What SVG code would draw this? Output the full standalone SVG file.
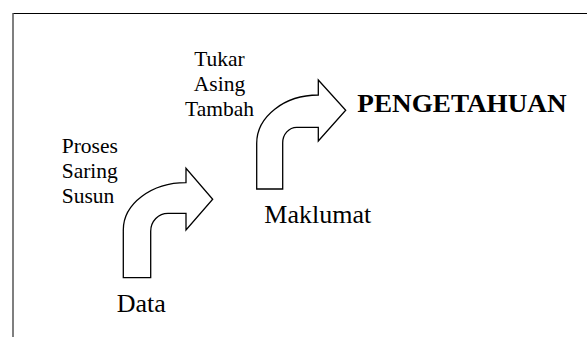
<svg xmlns="http://www.w3.org/2000/svg" width="587" height="337" viewBox="0 0 587 337">
<style>
.arrow{fill:#fff;stroke:#000;stroke-width:1.3;stroke-linejoin:miter}
.t{font-family:"Liberation Serif","Times New Roman",serif;fill:#000}
.s{font-size:21.5px}
.m{font-size:26px}
</style>
<rect width="587" height="337" fill="#fff"/>
<g id="frame">
<line x1="13" y1="13.5" x2="587" y2="13.5" stroke="#000" stroke-width="1"/>
<line x1="13" y1="13" x2="13" y2="337" stroke="#555" stroke-width="1.5"/>
</g>
<g id="connectors">
<path class="arrow" d="M123.3,277.7 L123.3,230 A62.7,47.3 0 0 1 186,182.7 L186,168.3 L212.7,199.3 L186,230 L186,213.3 L168,213.3 A17.3,18 0 0 0 150.7,231.3 L150.7,277.7 Z"/>
<path class="arrow" d="M256.7,189 L256.7,143.3 A61.6,48.3 0 0 1 318.3,95 L318.3,80 L345.7,110.3 L318.3,141 L318.3,127.3 L296.7,127.3 A14,15.5 0 0 0 282.7,142.8 L282.7,189 Z"/>
</g>
<g id="data"><text class="t m" x="116.7" y="311.7">Data</text></g>
<g id="proses"><text class="t s" x="61.7" y="153.3">Proses</text><text class="t s" x="61.7" y="178.3">Saring</text><text class="t s" x="61.7" y="203.3">Susun</text></g>
<g id="tukar"><text class="t s" x="219.5" y="65.7" text-anchor="middle">Tukar</text><text class="t s" x="219.5" y="90.7" text-anchor="middle">Asing</text><text class="t s" x="219.5" y="115.7" text-anchor="middle">Tambah</text></g>
<g id="maklumat"><text class="t m" x="264.3" y="223.3">Maklumat</text></g>
<g id="pengetahuan"><text class="t" x="357.3" y="112.3" font-size="24.5" font-weight="bold" textLength="209.3" lengthAdjust="spacingAndGlyphs">PENGETAHUAN</text></g>
</svg>
